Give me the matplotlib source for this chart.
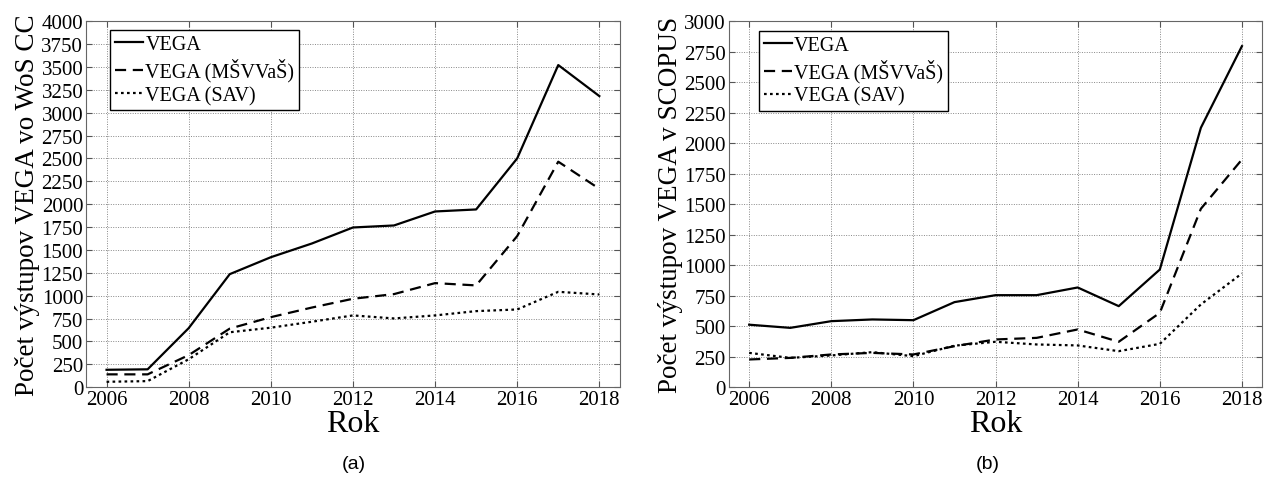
import matplotlib

matplotlib.use("Agg")

import matplotlib.pyplot as plt

plt.rcParams["font.family"] = ["Liberation Serif", "DejaVu Serif"]

YEARS = list(range(2006, 2019))

# (a) WoS CC
WOS_VEGA = [190, 195, 645, 1235, 1420, 1570, 1745, 1767, 1920, 1942, 2500, 3520, 3181]
WOS_MSVVAS = [140, 140, 350, 640, 765, 870, 966, 1017, 1137, 1112, 1651, 2464, 2168]
WOS_SAV = [59, 66, 305, 600, 650, 715, 784, 751, 784, 831, 849, 1042, 1013]

# (b) SCOPUS
SC_VEGA = [512, 486, 541, 555, 549, 697, 754, 754, 817, 664, 964, 2126, 2795]
SC_MSVVAS = [227, 240, 268, 281, 268, 336, 391, 404, 473, 372, 609, 1462, 1866]
SC_SAV = [281, 240, 260, 287, 254, 340, 372, 350, 342, 295, 355, 678, 932]

LABELS = ["VEGA", "VEGA (MŠVVaŠ)", "VEGA (SAV)"]
STYLES = ["-", (0, (5, 3)), (0, (1.2, 1.5))]


def draw_panel(ax, series, ymax, ylabel, leg_anchor):
    for vals, lab, ls in zip(series, LABELS, STYLES):
        ax.plot(YEARS, vals, color="black", linestyle=ls, linewidth=1.6, label=lab)
    ax.set_xlim(2005.5, 2018.5)
    ax.set_ylim(0, ymax)
    ax.set_xticks(range(2006, 2019, 2))
    ax.set_yticks(range(0, ymax + 1, 250))
    ax.grid(True, color="#888888", linestyle=(0, (1, 1.5)), linewidth=0.7)
    ax.tick_params(direction="in", top=True, right=True, labelsize=15,
                   length=4, color="#555555", pad=2)
    for s in ax.spines.values():
        s.set_color("#666666")
    ax.set_xlabel("Rok", fontsize=23, labelpad=0)
    ax.set_ylabel(ylabel, fontsize=19.5, labelpad=1)
    leg = ax.legend(loc="upper left", bbox_to_anchor=leg_anchor, fontsize=14.5,
                    handlelength=1.4, handletextpad=0.1, borderpad=0.25,
                    labelspacing=0.2, fancybox=False, framealpha=1, borderaxespad=0)
    leg.get_frame().set_edgecolor("black")
    leg.get_frame().set_linewidth(1.0)


fig = plt.figure(figsize=(12.65, 4.81), dpi=100)
ax1 = fig.add_axes([0.068, 0.193, 0.422, 0.761])
ax2 = fig.add_axes([0.576, 0.193, 0.422, 0.761])

draw_panel(ax1, [WOS_VEGA, WOS_MSVVAS, WOS_SAV], 4000, "Počet výstupov VEGA vo WoS CC", (0.045, 0.975))
draw_panel(ax2, [SC_VEGA, SC_MSVVAS, SC_SAV], 3000, "Počet výstupov VEGA v SCOPUS", (0.056, 0.973))

fig.text(0.28, 0.025, "(a)", fontsize=14, family="Liberation Sans", ha="center")
fig.text(0.781, 0.025, "(b)", fontsize=14, family="Liberation Sans", ha="center")

fig.savefig("out.png", dpi=100)
